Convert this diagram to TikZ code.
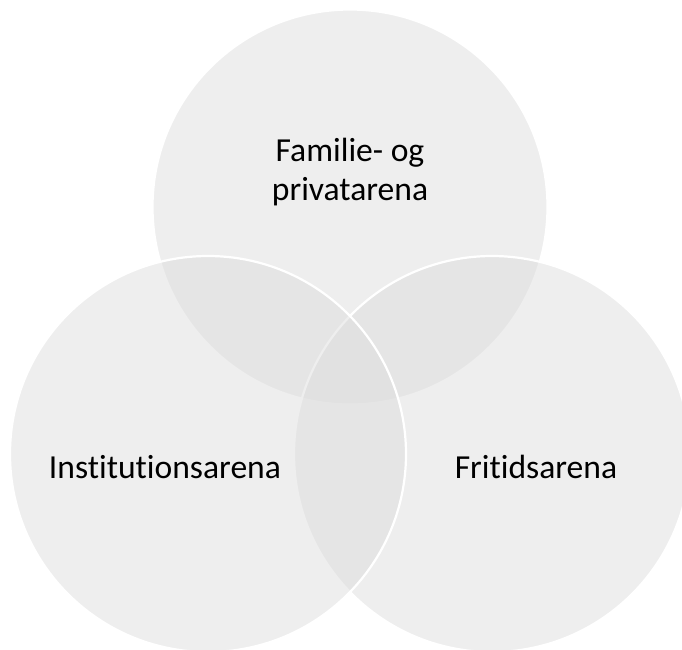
\documentclass[tikz,border=0pt]{standalone}
\usepackage{fontspec}
\setmainfont[Ligatures=NoCommon]{Carlito}
\begin{document}
\begin{tikzpicture}[x=1pt,y=-1pt,
  venn/.style={fill=black!13,fill opacity=0.5,draw=white,line width=2.2pt},
  lbl/.style={font=\fontsize{33.6}{39}\selectfont,text=black,align=center}]
\useasboundingbox (0,0) rectangle (682,649);
\begin{scope}
\clip (0,0) rectangle (682,649);
\fill[white] (0,0) rectangle (682,649);
\path[venn] (350,207) circle[radius=197.5];
\path[venn] (492,454) circle[radius=198];
\path[venn] (208,454) circle[radius=198];
\end{scope}
\node[lbl] (fam) at (350,172) {Familie- og\\privatarena};
\node[lbl] (inst) at (165,467) {Institutionsarena};
\node[lbl] (frit) at (536,467) {Fritidsarena};
\end{tikzpicture}
\end{document}
